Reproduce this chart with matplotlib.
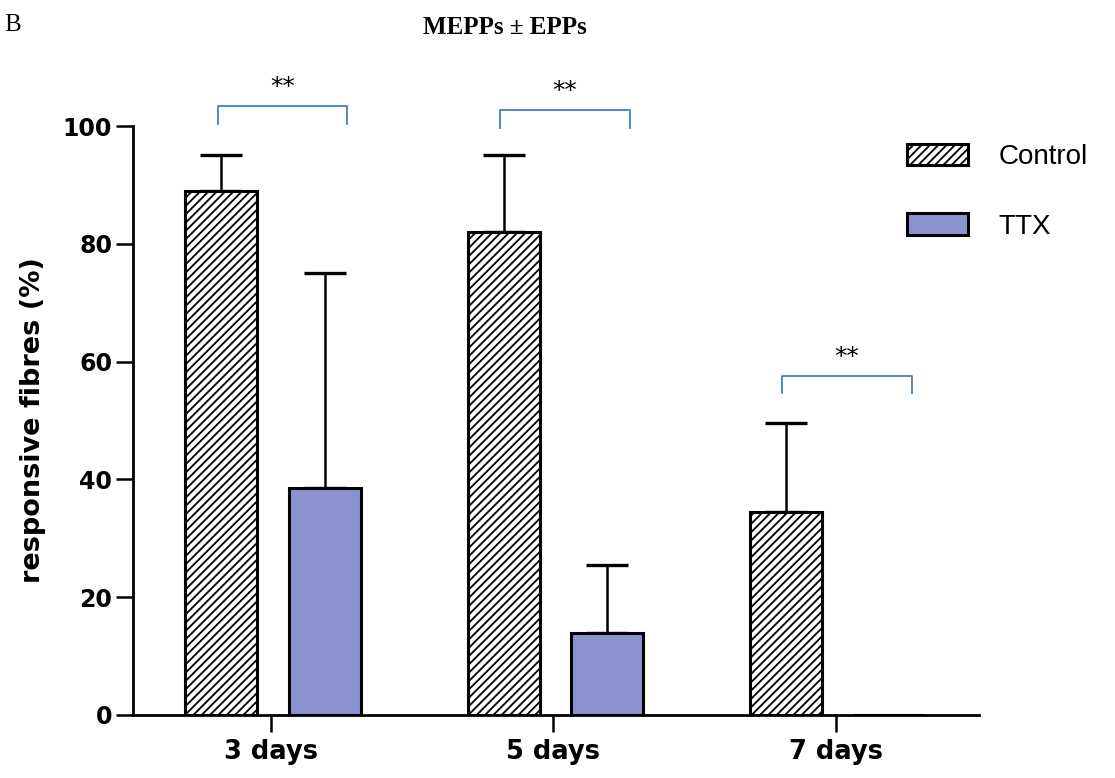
import numpy as np
import matplotlib
matplotlib.use("Agg")
import matplotlib.pyplot as plt

# data
groups = ["3 days", "5 days", "7 days"]
control = [89, 82, 34.5]
control_err = [6, 13, 15]
ttx = [38.5, 14, 0]
ttx_err = [36.5, 11.5, 0]
sig_labels = ["**", "**", "**"]
sig_heights = [103.4, 102.7, 57.6]

plt.rcParams["hatch.linewidth"] = 1.3
plt.rcParams["hatch.color"] = "black"

fig = plt.figure(figsize=(11.15, 7.78), dpi=100)
ax = fig.add_axes([0.1193, 0.081, 0.7585, 0.757])

x = np.arange(len(groups))
w = 0.255

b1 = ax.bar(x - 0.177, control, w, color="white", edgecolor="black",
            linewidth=2.2, hatch="////", label="Control", zorder=2)
b2 = ax.bar(x + 0.19, ttx, w, color="#8C92D0", edgecolor="black",
            linewidth=2.2, label="TTX", zorder=2)

ax.errorbar(x - 0.177, control, yerr=[np.zeros(3), control_err], fmt="none",
            ecolor="black", elinewidth=1.8, capsize=15, capthick=2.4, zorder=1)
ttx_mask = np.array(ttx) > 0
ax.errorbar((x + 0.19)[ttx_mask], np.array(ttx)[ttx_mask],
            yerr=[np.zeros(ttx_mask.sum()), np.array(ttx_err)[ttx_mask]],
            fmt="none", ecolor="black", elinewidth=1.8, capsize=15,
            capthick=2.4, zorder=1)

# significance brackets
for xi, h, lab in zip(x, sig_heights, sig_labels):
    xl, xr = xi - 0.19, xi + 0.27
    ax.plot([xl, xl, xr, xr], [h - 3, h, h, h - 3], color="#4A7CC8",
            lw=1.3, clip_on=False)
    ax.text((xl + xr) / 2, h + 1.2, lab, ha="center", va="bottom",
            fontsize=18, family="DejaVu Sans", clip_on=False)

ax.set_xlim(-0.49, 2.507)
ax.set_ylim(0, 100)
ax.set_yticks([0, 20, 40, 60, 80, 100])
ax.set_xticks(x)
ax.set_xticklabels(groups)
for s in ["top", "right"]:
    ax.spines[s].set_visible(False)
for s in ["left", "bottom"]:
    ax.spines[s].set_linewidth(2.0)
ax.tick_params(axis="both", direction="out", length=12, width=1.8)
ax.tick_params(axis="y", pad=3)
ax.tick_params(axis="x", pad=5)
for t in ax.get_yticklabels():
    t.set_fontsize(17)
    t.set_fontweight("bold")
for t in ax.get_xticklabels():
    t.set_fontsize(18.5)
    t.set_fontweight("bold")

ax.set_ylabel("responsive fibres (%)", fontsize=19.5, fontweight="bold",
              labelpad=12)

ax.legend(handles=[b1, b2], loc="upper left", bbox_to_anchor=(0.8035, 0.829),
          bbox_transform=fig.transFigure, frameon=False,
          prop={"family": "Liberation Sans", "size": 20},
          handlelength=2.2, handleheight=0.8, handletextpad=1.1,
          labelspacing=1.55, borderaxespad=0)

fig.text(0.453, 0.965, "MEPPs \u00b1 EPPs", ha="center", va="center",
         family="Liberation Serif", fontweight="bold", fontsize=18)
fig.text(0.004, 0.968, "B", ha="left", va="center",
         family="Liberation Serif", fontsize=18)

fig.savefig("out.png", dpi=100)
